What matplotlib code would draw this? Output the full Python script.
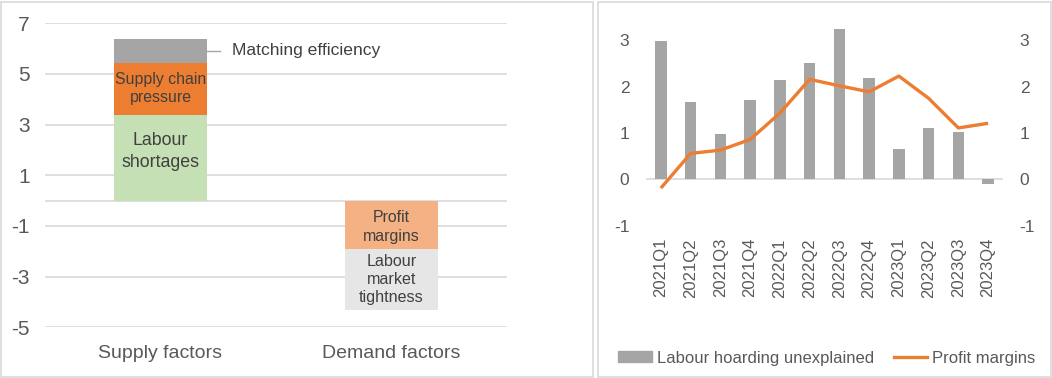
import matplotlib
matplotlib.use("Agg")
import matplotlib.pyplot as plt
from matplotlib.patches import Rectangle
from matplotlib.lines import Line2D

plt.rcParams['font.family'] = ['Liberation Sans', 'DejaVu Sans']

# ---------------- data ----------------
categories = ["Supply factors", "Demand factors"]
labour_shortages = [3.4, 0.0]
supply_chain = [2.05, 0.0]
matching_eff = [0.95, 0.0]
profit_contrib = [0.0, -1.9]
labour_tightness = [0.0, -2.4]
left_yticks = [-5, -3, -1, 1, 3, 5, 7]

quarters = ["2021Q1", "2021Q2", "2021Q3", "2021Q4", "2022Q1", "2022Q2",
            "2022Q3", "2022Q4", "2023Q1", "2023Q2", "2023Q3", "2023Q4"]
hoarding = [2.99, 1.67, 0.98, 1.72, 2.14, 2.52, 3.25, 2.19, 0.65, 1.11, 1.03, -0.11]
profit_margins = [-0.19, 0.56, 0.63, 0.86, 1.43, 2.16, 2.02, 1.89, 2.23, 1.75, 1.11, 1.21]
right_yticks = [-1, 0, 1, 2, 3]

W, H = 1052, 378
fig = plt.figure(figsize=(W / 100, H / 100), dpi=100)

def frac(x0, y0, x1, y1):
    return [x0 / W, 1 - y1 / H, (x1 - x0) / W, (y1 - y0) / H]

# panel borders
for (x0, y0, x1, y1) in [(1, 2, 593, 377), (598, 2, 1051, 377)]:
    fig.patches.append(Rectangle((x0 / W, 1 - y1 / H), (x1 - x0) / W, (y1 - y0) / H,
                                 transform=fig.transFigure, fill=False,
                                 edgecolor="#D9D9D9", linewidth=1.2))

TICK = "#595959"
TXT = "#404040"
GRID = "#D9D9D9"

# ---------------- left panel ----------------
ax = fig.add_axes(frac(45, 23.3, 507, 327.3))
x = list(range(len(categories)))
bw = 0.4
ax.bar(x, labour_shortages, bw, color="#C5E0B4", zorder=3)
ax.bar(x, supply_chain, bw, bottom=labour_shortages, color="#ED7D31", zorder=3)
bottom3 = [a + b for a, b in zip(labour_shortages, supply_chain)]
ax.bar(x, matching_eff, bw, bottom=bottom3, color="#A5A5A5", zorder=3)
ax.bar(x, profit_contrib, bw, color="#F4B183", zorder=3)
ax.bar(x, labour_tightness, bw, bottom=profit_contrib, color="#E7E6E6", zorder=3)

ax.set_xlim(-0.5, 1.5)
ax.set_ylim(-5, 7)
ax.set_yticks(left_yticks)
ax.set_yticklabels([str(v) for v in left_yticks])
ax.yaxis.grid(True, color=GRID, linewidth=1.2, zorder=0)
ax.axhline(0, color=GRID, linewidth=1.2, zorder=1)
ax.set_xticks(x)
ax.set_xticklabels(categories)
for s in ax.spines.values():
    s.set_visible(False)
ax.tick_params(axis='y', length=0, pad=11, labelsize=15, labelcolor=TICK)
ax.tick_params(axis='x', length=0, pad=13, labelsize=14, labelcolor=TICK)

# segment labels
ax.text(0, labour_shortages[0] * 0.57, "Labour\nshortages", ha="center", va="center",
        fontsize=12.8, color=TXT, linespacing=1.35, zorder=4)
ax.text(0, labour_shortages[0] + supply_chain[0] / 2, "Supply chain\npressure", ha="center",
        va="center", fontsize=11.4, color=TXT, linespacing=1.3, zorder=4)
ax.text(1, profit_contrib[1] / 2 - 0.08, "Profit\nmargins", ha="center", va="center",
        fontsize=11.4, color=TXT, linespacing=1.35, zorder=4)
ax.text(1, profit_contrib[1] + labour_tightness[1] / 2 - 0.03, "Labour\nmarket\ntightness",
        ha="center", va="center", fontsize=11.6, color=TXT, linespacing=1.25, zorder=4)
ym = bottom3[0] + matching_eff[0] / 2
ax.plot([bw / 2, bw / 2 + 0.058], [ym, ym], color="#A5A5A5", linewidth=1, zorder=4,
        clip_on=False)
ax.text(bw / 2 + 0.108, ym, "Matching efficiency", ha="left", va="center",
        fontsize=12.6, color=TXT, zorder=4)

# ---------------- right panel ----------------
ax2 = fig.add_axes(frac(646, 17.3, 1003, 225.6))
xi = list(range(len(quarters)))
ax2.bar(xi, hoarding, 0.38, color="#A5A5A5", zorder=3, label="Labour hoarding unexplained")
ax2.set_xlim(-0.5, len(quarters) - 0.5)
ax2.set_ylim(-1, 3.5)
ax2.axhline(0, color=GRID, linewidth=1.2, zorder=1)
ax2.set_yticks(right_yticks)
ax2.set_yticklabels([str(v) for v in right_yticks])
ax2.set_xticks(xi)
ax2.set_xticklabels(quarters, rotation=90, va="top")
for s in ax2.spines.values():
    s.set_visible(False)
ax2.tick_params(axis='y', length=0, pad=12, labelsize=12.5, labelcolor=TICK)
ax2.tick_params(axis='x', length=0, pad=9, labelsize=12, labelcolor=TICK)

ax3 = ax2.twinx()
ax3.plot(xi, profit_margins, color="#ED7D31", linewidth=2.4, zorder=5,
         solid_capstyle="butt", label="Profit margins")
ax3.set_ylim(-1, 3.5)
ax3.set_yticks(right_yticks)
ax3.set_yticklabels([str(v) for v in right_yticks])
for s in ax3.spines.values():
    s.set_visible(False)
ax3.tick_params(axis='y', length=0, pad=12, labelsize=12.5, labelcolor=TICK)

handles = [Rectangle((0, 0), 1, 1, color="#A5A5A5"),
           Line2D([0], [0], color="#ED7D31", linewidth=2.4)]
fig.legend(handles, ["Labour hoarding unexplained", "Profit margins"],
           loc="center", bbox_to_anchor=(827 / W, 1 - 358 / H), ncol=2, frameon=False,
           fontsize=12, labelcolor=TICK, handlelength=2.0, handleheight=0.6,
           handletextpad=0.3, columnspacing=1.2, borderaxespad=0)

fig.savefig("out.png", dpi=100)
